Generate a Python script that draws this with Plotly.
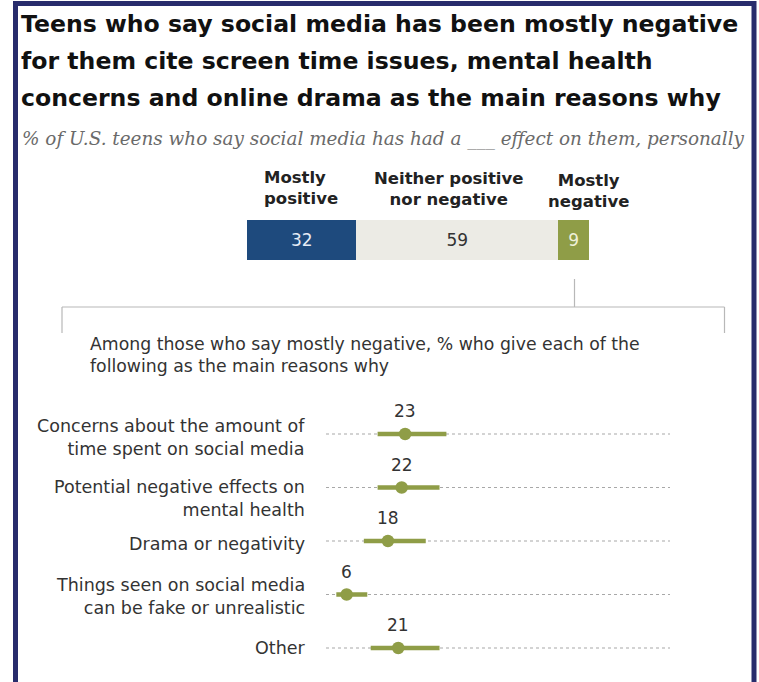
import plotly.graph_objects as go

# ---------------- data ----------------
title_lines = [
    "Teens who say social media has been mostly negative",
    "for them cite screen time issues, mental health",
    "concerns and online drama as the main reasons why",
]
subtitle = "% of U.S. teens who say social media has had a ___ effect on them, personally"

effect_names = ["Mostly<br>positive", "Neither positive<br>nor negative", "Mostly<br>negative"]
effect_values = [32, 59, 9]

intro_text = ("Among those who say mostly negative, % who give each of the<br>"
              "following as the main reasons why")

reasons = [
    "Concerns about the amount of<br>time spent on social media",
    "Potential negative effects on<br>mental health",
    "Drama or negativity",
    "Things seen on social media<br>can be fake or unrealistic",
    "Other",
]
reason_values = [23, 22, 18, 6, 21]
reason_low = [15, 15, 11, 3, 13]
reason_high = [35, 33, 29, 12, 33]

# ---------------- style ----------------
W, H = 759, 682
def px(x):
    return x / W
def py(y):
    return 1 - y / H

BLUE = "#1e4a7d"
GRAY = "#ecebe5"
GREEN = "#8f9d47"
NAVY = "#282c6c"
WIDE = "DejaVu Sans, Verdana, sans-serif"

effect_colors = [BLUE, GRAY, GREEN]
effect_text_colors = ["#e6ecf5", "#333333", "#eef0d8"]
header_cfg = [  # (x px, xanchor, align, y px)
    (262, "left", "left", 188),
    (449, "center", "center", 189),
    (588, "center", "center", 191),
]
label_shift = [-3, -11, -3, -2, 0]

fig = go.Figure()

# stacked top bar
for name, val, col, tcol in zip(effect_names, effect_values, effect_colors, effect_text_colors):
    fig.add_trace(go.Bar(
        x=[val], y=[0], orientation="h", width=1,
        marker=dict(color=col, line=dict(width=0)),
        text=[str(val)], textposition="inside", insidetextanchor="middle",
        textfont=dict(family=WIDE, size=17, color=tcol),
        hoverinfo="skip", showlegend=False,
        xaxis="x", yaxis="y", name=name.replace("<br>", " "),
    ))

rows = list(range(len(reasons)))

# dotted guide lines
for i in rows:
    fig.add_trace(go.Scatter(
        x=[0, 100], y=[i, i], mode="lines",
        line=dict(color="#a8a8a8", width=1.2, dash="dot"),
        hoverinfo="skip", showlegend=False, xaxis="x2", yaxis="y2",
    ))
# range segments
for i, lo, hi in zip(rows, reason_low, reason_high):
    fig.add_trace(go.Scatter(
        x=[lo, hi], y=[i, i], mode="lines",
        line=dict(color=GREEN, width=4.5),
        hoverinfo="skip", showlegend=False, xaxis="x2", yaxis="y2",
    ))
# dots
fig.add_trace(go.Scatter(
    x=reason_values, y=rows, mode="markers",
    marker=dict(color=GREEN, size=12.5),
    hoverinfo="skip", showlegend=False, xaxis="x2", yaxis="y2",
))

ann = []
# title
title_y = [24, 61, 98]
for t, yy in zip(title_lines, title_y):
    ann.append(dict(text="<b>" + t + "</b>", x=px(19), y=py(yy), xref="paper", yref="paper",
                    xanchor="left", yanchor="middle", showarrow=False,
                    font=dict(family=WIDE, size=23.6, color="#111111")))
ann.append(dict(text="<i>" + subtitle + "</i>", x=px(20), y=py(139), xref="paper", yref="paper",
                xanchor="left", yanchor="middle", showarrow=False,
                font=dict(family="DejaVu Serif, serif", size=18.4, color="#6a6a6a")))
# headers
for name, (hx, xa, al, hy) in zip(effect_names, header_cfg):
    ann.append(dict(text="<b>" + name + "</b>", x=px(hx), y=py(hy), xref="paper", yref="paper",
                    xanchor=xa, yanchor="middle", align=al, showarrow=False,
                    font=dict(family=WIDE, size=16.5, color="#222222")))
# intro text
ann.append(dict(text=intro_text, x=px(88), y=py(355), xref="paper", yref="paper",
                xanchor="left", yanchor="middle", align="left", showarrow=False,
                font=dict(family=WIDE, size=17.3, color="#333333")))
# category labels
for i, lab, sh in zip(rows, reasons, label_shift):
    ann.append(dict(text=lab, x=px(307), y=i, xref="paper", yref="y2", yshift=sh,
                    xanchor="right", yanchor="middle", align="right", showarrow=False,
                    font=dict(family=WIDE, size=17.5, color="#333333")))
# value labels
for i, v in zip(rows, reason_values):
    ann.append(dict(text=str(v), x=v, y=i, xref="x2", yref="y2", yshift=23,
                    xanchor="center", yanchor="middle", showarrow=False,
                    font=dict(family=WIDE, size=17, color="#333333")))

shapes = []
LC = "#b8b8b8"
# connector
shapes.append(dict(type="line", xref="paper", yref="paper", x0=px(574.5), x1=px(574.5),
                   y0=py(279), y1=py(307), line=dict(color=LC, width=1.2)))
shapes.append(dict(type="line", xref="paper", yref="paper", x0=px(62), x1=px(724.5),
                   y0=py(307), y1=py(307), line=dict(color=LC, width=1.2)))
shapes.append(dict(type="line", xref="paper", yref="paper", x0=px(62), x1=px(62),
                   y0=py(307), y1=py(333), line=dict(color=LC, width=1.2)))
shapes.append(dict(type="line", xref="paper", yref="paper", x0=px(724.5), x1=px(724.5),
                   y0=py(307), y1=py(333), line=dict(color=LC, width=1.2)))
# frame
shapes.append(dict(type="rect", xref="paper", yref="paper", x0=px(15.5), x1=px(754),
                   y0=py(700), y1=py(3.5), line=dict(color=NAVY, width=5),
                   fillcolor="rgba(0,0,0,0)"))

fig.update_layout(
    width=W, height=H,
    margin=dict(l=0, r=0, t=0, b=0),
    paper_bgcolor="white", plot_bgcolor="white",
    barmode="stack",
    xaxis=dict(domain=[px(247), px(589)], range=[0, 100], visible=False, fixedrange=True),
    yaxis=dict(domain=[py(260), py(220)], range=[-0.5, 0.5], visible=False, fixedrange=True),
    xaxis2=dict(domain=[px(326), px(670)], range=[0, 100], visible=False, anchor="y2"),
    yaxis2=dict(domain=[py(674.75), py(407.25)], range=[4.5, -0.5], visible=False, anchor="x2"),
    annotations=ann,
    shapes=shapes,
    showlegend=False,
)

# remove the default 8px page margin so the figure fills the window exactly
fig.write_html("out.html",
               config={"displayModeBar": False, "staticPlot": True},
               post_script="document.body.style.margin='0';document.body.style.overflow='hidden';")
